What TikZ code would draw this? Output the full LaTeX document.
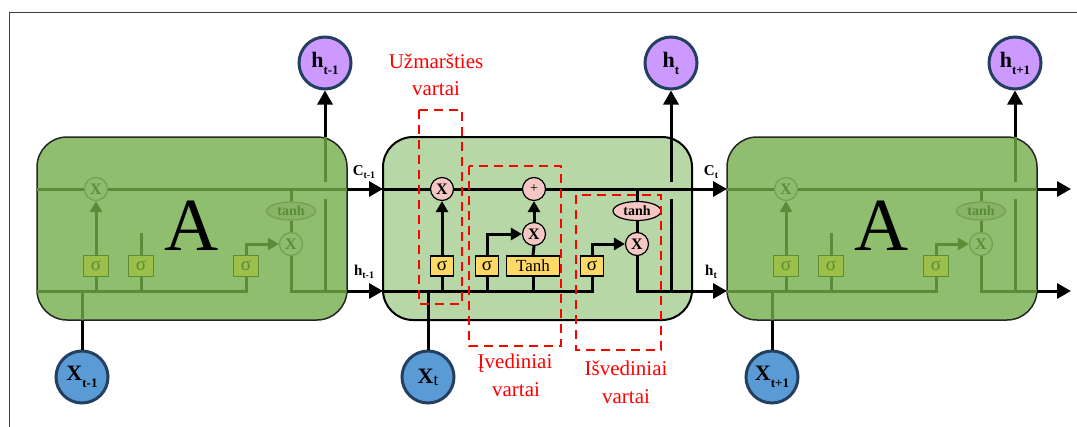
\documentclass[tikz,border=0pt]{standalone}
\usepackage{fontspec}
\setmainfont{Liberation Serif}
\usetikzlibrary{arrows.meta,shapes.geometric}
\definecolor{cellmid}{HTML}{B8D7A6}
\definecolor{cellside}{HTML}{8FBF6E}
\definecolor{gline}{HTML}{5B8C38}
\definecolor{gsig}{HTML}{9CBF4A}
\definecolor{gcirc}{HTML}{8CBC6C}
\definecolor{gell}{HTML}{88B466}
\definecolor{ybox}{HTML}{FFD966}
\definecolor{pinkc}{HTML}{F4C7C3}
\definecolor{hfill}{HTML}{CC99FF}
\definecolor{xfill}{HTML}{5B9BD5}
\definecolor{cborder}{HTML}{243F60}
\definecolor{redc}{HTML}{FF0000}
\newcommand\fadedcell[2]{%
\begin{scope}[shift={(#2,0)}]
  \draw[sidecell] (0,137) rectangle (310,320);
  \coordinate (#1cl) at (0,189);
  \coordinate (#1cr) at (310,189);
  \coordinate (#1hl) at (0,291);
  \coordinate (#1hr) at (310,291);
  \coordinate (#1ua) at (288,291);
  \coordinate (#1ub) at (288,199);
  \coordinate (#1uc) at (288,182);
  \coordinate (#1ud) at (288,137);
  \coordinate (#1xa) at (45,320);
  \coordinate (#1xb) at (45,291);
  \coordinate (#1stub) at (104,233);
  \node[gcircle] (#1fx) at (59,189) {X};
  \node[gsigma] (#1s1) at (59,266) {σ};
  \node[gsigma] (#1s2) at (104,266) {σ};
  \node[gsigma] (#1s3) at (209,266) {σ};
  \node[gellipse] (#1th) at (254,211) {tanh};
  \node[gcircle] (#1ox) at (254,244) {X};
  \draw[gln] (#1cl) -- (#1fx.west);
  \draw[gln] (#1fx.east) -- (#1cr);
  \draw[gln] (#1hl) -| (#1s3.south);
  \draw[gln] (#1s1.south) -- (#1s1.south |- #1hl);
  \draw[gln] (#1s2.south) -- (#1s2.south |- #1hl);
  \draw[gln] (#1s2.north) -- (#1stub);
  \draw[gln,gtip] (#1s1.north) -- (#1fx.south);
  \draw[gln,gtip] (#1s3.north) |- (#1ox.west);
  \draw[gln] (#1th.north |- #1cl) -- (#1th.north);
  \draw[gln] (#1th.south) -- (#1ox.north);
  \draw[gln] (#1ox.south) |- (#1hr);
  \draw[gln] (#1ua) -- (#1ub);
  \draw[gln] (#1uc) -- (#1ud);
  \draw[gln] (#1xa) -- (#1xb);
  \node[anchor=base, font=\fontsize{75}{75}\selectfont] (#1A) at (155,250) {A};
\end{scope}}
\begin{document}
\begin{tikzpicture}[x=1pt,y=-1pt,
  ln/.style={line width=3pt},
  gln/.style={line width=3pt, draw=gline},
  bigtip/.style={-{Triangle[length=14pt,width=15pt]}},
  smalltip/.style={-{Triangle[length=11pt,width=12pt]}},
  gtip/.style={-{Triangle[length=11pt,width=12pt,fill=gline]}},
  sidecell/.style={rounded corners=30pt, line width=1.5pt, draw=black!85, fill=cellside},
  midcell/.style={rounded corners=30pt, line width=2pt, draw=black, fill=cellmid},
  gcircle/.style={circle, draw=gline!85, line width=1.2pt, fill=gcirc, minimum size=23pt, inner sep=0pt, text=gline, font=\fontsize{16}{16}\selectfont\bfseries},
  gsigma/.style={rectangle, draw=gline, line width=1.5pt, fill=gsig, minimum width=25pt, minimum height=21pt, inner sep=0pt, text=gline, font=\fontsize{19}{19}\selectfont},
  gellipse/.style={ellipse, draw=gline!85, line width=1.2pt, fill=gell, minimum width=49pt, minimum height=18pt, inner sep=0pt, text=gline, font=\fontsize{14}{14}\selectfont\bfseries},
  pcircle/.style={circle, draw=black, line width=1.2pt, fill=pinkc, minimum size=23pt, inner sep=0pt, font=\fontsize{16}{16}\selectfont\bfseries},
  ysigma/.style={rectangle, draw=black, line width=1.8pt, fill=ybox, minimum width=23pt, minimum height=20pt, inner sep=0pt, font=\fontsize{19}{19}\selectfont},
  pellipse/.style={ellipse, draw=black, line width=1.2pt, fill=pinkc, minimum width=48pt, minimum height=19pt, inner sep=0pt, font=\fontsize{14}{14}\selectfont\bfseries},
  hcircle/.style={circle, draw=cborder, line width=3pt, fill=hfill, minimum size=52pt, inner sep=0pt},
  xcircle/.style={circle, draw=cborder, line width=3pt, fill=xfill, minimum size=52pt, inner sep=0pt},
  gatebox/.style={draw=redc, line width=2.5pt, dash pattern=on 9pt off 6pt},
  redlbl/.style={text=redc, font=\fontsize{21}{21}\selectfont, inner sep=0pt},
  arrlbl/.style={font=\fontsize{15}{15}\selectfont\bfseries, inner sep=0pt}
]
\useasboundingbox (0,0) rectangle (1077,426);
% frame
\draw[line width=1pt, black!75] (9,440) -- (9,12) -- (1090,12);

% h and x circles
\newcommand\bigsub[2]{{\fontsize{22}{22}\selectfont\textbf{#1}\raisebox{-7pt}{\fontsize{13}{13}\selectfont\textbf{#2}}}}
\node[hcircle] (hp) at (325,63) {\bigsub{h}{t-1}};
\node[hcircle] (hc) at (671,63) {\bigsub{h}{t}};
\node[hcircle] (hn) at (1015,63) {\bigsub{h}{t+1}};
\node[xcircle] (xp) at (82,377) {\bigsub{X}{t-1}};
\node[xcircle] (xc) at (428,377) {{\fontsize{22}{22}\selectfont\textbf{X}\raisebox{-2pt}{\fontsize{17}{17}\selectfont t}}};
\node[xcircle] (xn) at (772,377) {\bigsub{X}{t+1}};

% black outer parts of side cells
\coordinate (Lup) at (325,291);
\coordinate (Rup) at (1015,291);
\coordinate (Lx) at (82,291);
\coordinate (Rx) at (772,291);
\draw[ln,bigtip] (Lup) -- (hp.south);
\draw[ln,bigtip] (Rup) -- (hn.south);
\draw[ln] (xp.north) -- (Lx);
\draw[ln] (xn.north) -- (Rx);

% side cells
\fadedcell{L}{37}
\fadedcell{R}{727}

% middle cell
\draw[midcell] (383,137) rectangle (692,320);
\coordinate (cinM) at (383,189);
\coordinate (hinM) at (383,291);
\coordinate (coutM) at (727,189);
\coordinate (houtM) at (727,291);
\coordinate (upa) at (671,291);
\coordinate (upb) at (671,199);
\coordinate (upc) at (671,182);
\node[pcircle] (fx) at (442,189) {X};
\node[pcircle, font=\fontsize{14}{14}\selectfont] (plus) at (534,189) {+};
\node[pcircle] (ix) at (534,234) {X};
\node[pcircle] (ox) at (637,244) {X};
\node[pellipse] (oth) at (637,211) {tanh};
\node[ysigma] (fs) at (442,266) {σ};
\node[ysigma] (is) at (487,266) {σ};
\node[ysigma, minimum width=53pt, font=\fontsize{17}{17}\selectfont] (tb) at (533,266) {Tanh};
\node[ysigma] (os) at (592,266) {σ};
\draw[ln] (hinM) -| (os.south);
\draw[ln] (fs.south) -- (fs.south |- hinM);
\draw[ln] (is.south) -- (is.south |- hinM);
\draw[ln] (tb.south) -- (tb.south |- hinM);
\draw[ln] (xc.north) -- (xc.north |- hinM);
\draw[ln,smalltip] (fs.north) -- (fx.south);
\draw[ln,smalltip] (is.north) |- (ix.west);
\draw[ln] (tb.north) -- (ix.south);
\draw[ln,smalltip] (ix.north) -- (plus.south);
\draw[ln,smalltip] (os.north) |- (ox.west);
\draw[ln] (cinM) -- (fx.west);
\draw[ln] (fx.east) -- (plus.west);
\draw[ln,bigtip] (plus.east) -- (coutM);
\draw[ln] (oth.north |- cinM) -- (oth.north);
\draw[ln] (oth.south) -- (ox.north);
\draw[ln,bigtip] (ox.south) |- (houtM);
\draw[ln] (upa) -- (upb);
\draw[ln,bigtip] (upc) -- (hc.south);

% arrows between cells
\draw[ln,bigtip] (Lcr) -- (cinM);
\draw[ln,bigtip] (Lhr) -- (hinM);
\coordinate (Cend) at (1071,189);
\coordinate (Hend) at (1071,291);
\draw[ln,bigtip] (Rcr) -- (Cend);
\draw[ln,bigtip] (Rhr) -- (Hend);

% arrow labels
\newcommand\smallsub[2]{\textbf{#1}\raisebox{-3pt}{\fontsize{10}{10}\selectfont\textbf{#2}}}
\node[arrlbl] (lc1) at (364,172) {\smallsub{C}{t-1}};
\node[arrlbl] (lh1) at (364,272) {\smallsub{h}{t-1}};
\node[arrlbl] (lc2) at (711,172) {\smallsub{C}{t}};
\node[arrlbl] (lh2) at (711,272) {\smallsub{h}{t}};

% gate boxes
\draw[gatebox] (419,110) rectangle (462,304);
\draw[gatebox] (469,166) rectangle (561,346);
\draw[gatebox] (576,195) rectangle (661,350);
\node[redlbl, anchor=base] (g1a) at (436,68) {Užmaršties};
\node[redlbl, anchor=base] (g1b) at (436,95) {vartai};
\node[redlbl, anchor=base] (g2a) at (515,368) {Įvediniai};
\node[redlbl, anchor=base] (g2b) at (516,396) {vartai};
\node[redlbl, anchor=base] (g3a) at (626,375) {Išvediniai};
\node[redlbl, anchor=base] (g3b) at (626,403) {vartai};
\end{tikzpicture}
\end{document}
